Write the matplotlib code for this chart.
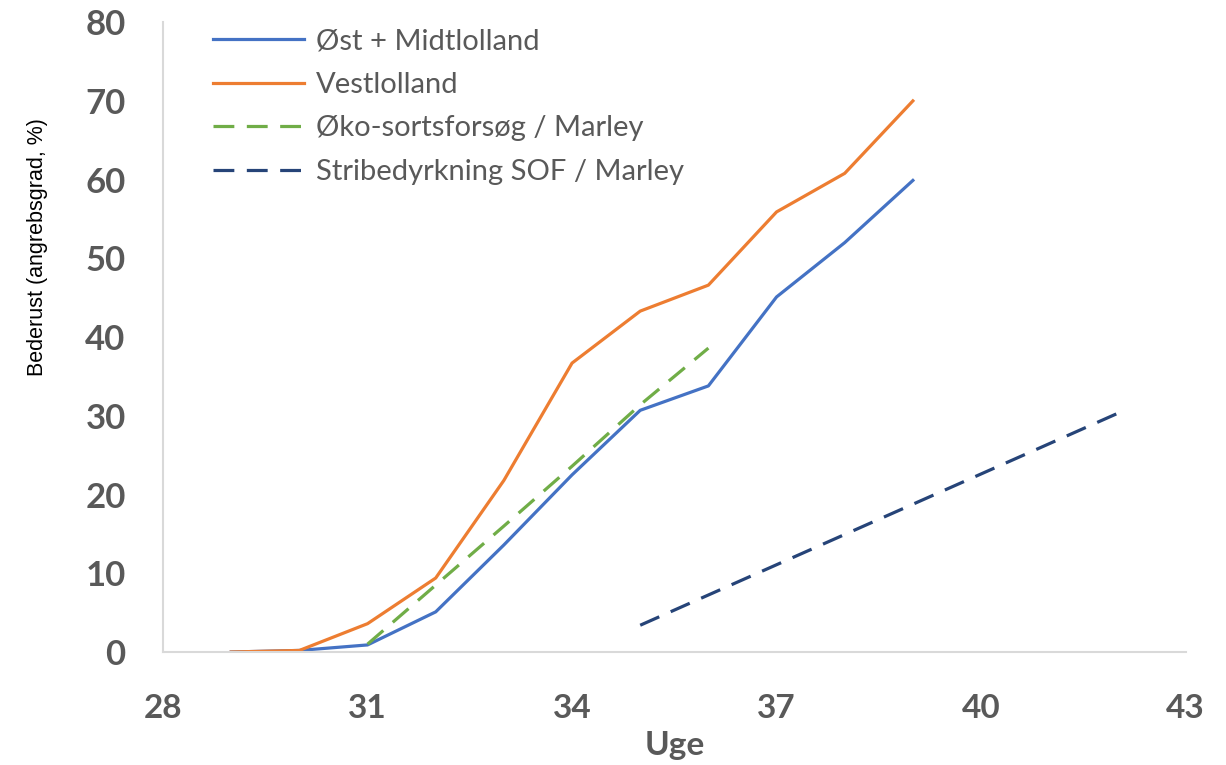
import matplotlib
matplotlib.use("Agg")
import matplotlib.pyplot as plt
from matplotlib import font_manager

plt.rcParams['lines.scale_dashes'] = False

weeks_main = [29, 30, 31, 32, 33, 34, 35, 36, 37, 38, 39]
oest_midt = [0, 0.2, 0.9, 5.1, 13.6, 22.5, 30.7, 33.8, 45.1, 52.0, 59.9]
vest = [0, 0.2, 3.6, 9.4, 21.8, 36.7, 43.3, 46.6, 55.9, 60.8, 70.0]
weeks_oeko = [31, 32, 33, 34, 35, 36]
oeko = [1.0, 8.5, 16.0, 23.6, 31.4, 38.6]
weeks_stribe = [35, 42]
stribe = [3.4, 30.3]

labels = ["Øst + Midtlolland", "Vestlolland", "Øko-sortsforsøg / Marley",
          "Stribedyrkning SOF / Marley"]
x_ticks = [28, 31, 34, 37, 40, 43]
y_ticks = [0, 10, 20, 30, 40, 50, 60, 70, 80]

names = {f.name for f in font_manager.fontManager.ttflist}
if "Liberation Sans Narrow" in names:
    ylab_family, ylab_size = "Liberation Sans Narrow", 19
else:
    ylab_family, ylab_size = "Liberation Sans", 15.5

fig = plt.figure(figsize=(12.26, 7.65), dpi=100)
ax = fig.add_axes([0.133, 0.1477, 0.834, 0.8233])

lw = 2.3
ax.plot(weeks_main, oest_midt, color="#4472C4", lw=lw, label=labels[0])
ax.plot(weeks_main, vest, color="#ED7D31", lw=lw, label=labels[1])
ax.plot(weeks_oeko, oeko, color="#70AD47", lw=lw, dashes=(15, 9), label=labels[2])
ax.plot(weeks_stribe, stribe, color="#264478", lw=lw, dashes=(15, 9), label=labels[3])

ax.set_xlim(28, 43)
ax.set_ylim(0, 80)
ax.set_xticks(x_ticks)
ax.set_yticks(y_ticks)
ax.tick_params(axis='both', length=0)
ax.tick_params(axis='x', pad=30)
ax.tick_params(axis='y', pad=27)
for t in ax.get_xticklabels():
    t.set_fontfamily("Lato")
    t.set_fontweight("bold")
    t.set_fontsize(24)
    t.set_color("#595959")
for t in ax.get_yticklabels():
    t.set_fontfamily("Lato")
    t.set_fontweight("bold")
    t.set_fontsize(25)
    t.set_color("#595959")

ax.set_xlabel("Uge", fontfamily="Lato", fontweight="bold", fontsize=24, color="#595959")
ax.xaxis.set_label_coords((675 - 163) / 1023, (652 - 731) / 630)
ax.set_ylabel("Bederust (angrebsgrad, %)", fontfamily=ylab_family, fontsize=ylab_size,
              color="black")
ax.yaxis.set_label_coords((48 - 163) / 1023, (652 - 247) / 630)

for s in ["top", "right"]:
    ax.spines[s].set_visible(False)
for s in ["left", "bottom"]:
    ax.spines[s].set_color("#D9D9D9")
    ax.spines[s].set_linewidth(1.5)

leg = ax.legend(loc="upper left", bbox_to_anchor=(0.049, 0.99), frameon=False,
                prop={"family": "Lato", "size": 21}, labelcolor="#595959",
                handlelength=3.1, handletextpad=0.41, labelspacing=0.6,
                borderpad=0, borderaxespad=0)

fig.savefig("out.png", dpi=100)
